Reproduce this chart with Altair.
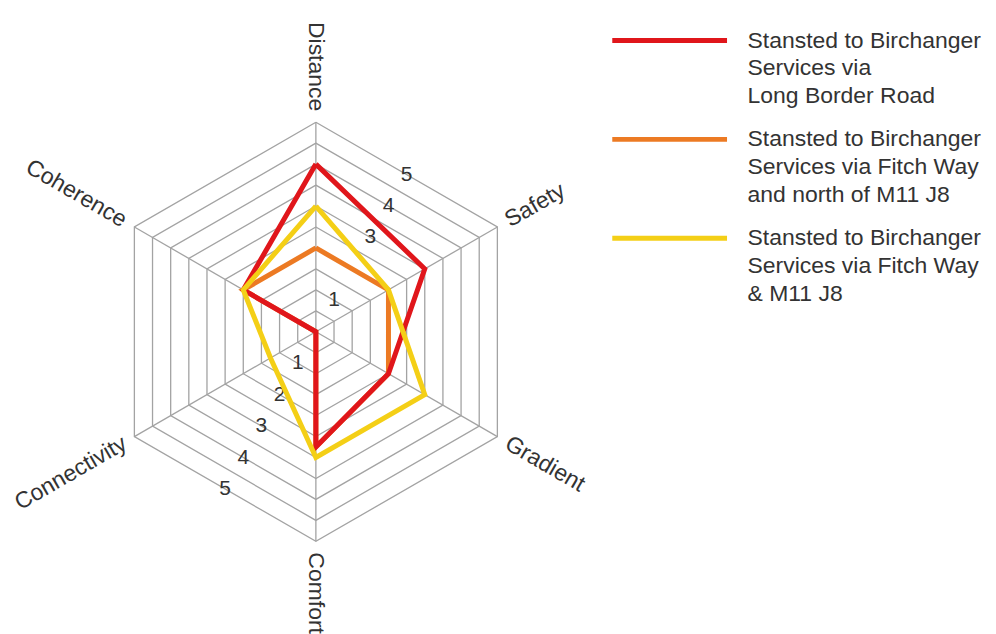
import math
import altair as alt
import pandas as pd

# ---------------- data ----------------
axes = ["Distance", "Safety", "Gradient", "Comfort", "Connectivity", "Coherence"]
series = [
    "Stansted to Birchanger|Services via|Long Border Road",
    "Stansted to Birchanger|Services via Fitch Way|and north of M11 J8",
    "Stansted to Birchanger|Services via Fitch Way|& M11 J8",
]
colors = ["#e0161b", "#ec7a23", "#f4cf16"]
long_border_road = [4, 3, 2, 2.75, 0, 2]
fitch_way_north = [2, 2, 2, 2.75, 0, 2]
fitch_way_j8 = [3, 2, 3, 3, 1.25, 2]
ring_levels = [0.5, 1, 1.5, 2, 2.5, 3, 3.5, 4, 4.5, 5]
max_level = 5
ticks_upper = [1, 3, 4, 5]
ticks_lower = [1, 2, 3, 4, 5]
draw_order = [1, 0, 2]   # orange below red, yellow on top

# ---------------- layout ----------------
W, H = 982, 626
cx, cy = 308.5, 323.8      # radar centre in plot pixels
unit = 42.0                # pixels per value unit
xdom = [-cx / unit, (W - cx) / unit]
ydom = [-(H - cy) / unit, cy / unit]
label_gap = 11 / unit
FONT = "Liberation Sans"
TXT = "#333333"
GRID = "#a3a3a3"

# ---------------- tables ----------------
rows = []
for name, vals in zip(series, [long_border_road, fitch_way_north, fitch_way_j8]):
    for i in range(len(axes) + 1):
        rows.append({"series": name, "axis_i": i % len(axes), "value": vals[i % len(axes)], "order": i})
series_df = pd.DataFrame(rows)

grid_df = pd.DataFrame([{"level": lv, "axis_i": i % len(axes), "order": i}
                        for lv in ring_levels for i in range(len(axes) + 1)])
spoke_df = pd.DataFrame({"axis_i": list(range(len(axes))), "value": [max_level] * len(axes)})
tick_df = pd.DataFrame(
    [{"tick": t, "dir": 1} for t in ticks_upper] + [{"tick": t, "dir": -1} for t in ticks_lower]
)
label_df = pd.DataFrame({"axis": axes, "axis_i": list(range(len(axes)))})

xs = alt.Scale(domain=xdom, nice=False, zero=False)
ys = alt.Scale(domain=ydom, nice=False, zero=False)
ANG = "PI/2 - datum.axis_i*PI/3"

def X(f):
    return alt.X(f, type="quantitative", scale=xs, axis=None)

def Y(f):
    return alt.Y(f, type="quantitative", scale=ys, axis=None)

grid = alt.Chart(grid_df).transform_calculate(
    x=f"datum.level*cos({ANG})", y=f"datum.level*sin({ANG})"
).mark_line(color=GRID, strokeWidth=1.3).encode(
    x=X("x"), y=Y("y"), detail="level:N", order="order:Q"
)

spokes = alt.Chart(spoke_df).transform_calculate(
    x0="0", y0="0", x=f"datum.value*cos({ANG})", y=f"datum.value*sin({ANG})"
).mark_rule(color=GRID, strokeWidth=1.3).encode(
    x=X("x0"), y=Y("y0"), x2="x:Q", y2="y:Q"
)

ticks = alt.Chart(tick_df).transform_calculate(
    x="datum.dir*datum.tick*cos(PI/6)*cos(PI/3)",
    y="datum.dir*datum.tick*cos(PI/6)*sin(PI/3)",
).mark_text(font=FONT, fontSize=21, color=TXT, align="center", baseline="middle").encode(
    x=X("x"), y=Y("y"), text="tick:Q"
)

legend = alt.Legend(
    title=None, orient="none", legendX=641, legendY=10,
    symbolType="M-3,0H3", symbolSize=1469, symbolStrokeWidth=5,
    labelFont=FONT, labelFontSize=23, labelColor=TXT, labelLimit=400,
    labelOffset=56, labelBaseline="middle", rowPadding=9, padding=0,
    labelExpr="split(datum.label, '|')",
)
color = alt.Color("series:N", scale=alt.Scale(domain=series, range=colors), legend=legend)

lines = []
for k in draw_order:
    name = series[k]
    lines.append(
        alt.Chart(series_df).transform_filter(alt.datum.series == name).transform_calculate(
            x=f"datum.value*cos({ANG})", y=f"datum.value*sin({ANG})"
        ).mark_line(strokeWidth=5, strokeJoin="miter").encode(
            x=X("x"), y=Y("y"), order="order:Q", color=color
        )
    )

lab_base = alt.Chart(label_df).transform_calculate(
    x=f"({max_level}+{label_gap})*cos({ANG})", y=f"({max_level}+{label_gap})*sin({ANG})"
)
labels_left = lab_base.transform_filter("datum.axis_i>=1 && datum.axis_i<=3").transform_calculate(
    rot="(60*datum.axis_i + 270) % 360"
).mark_text(font=FONT, fontSize=23, color=TXT, align="left", baseline="middle").encode(
    x=X("x"), y=Y("y"), text="axis:N", angle=alt.Angle("rot:Q", scale=None)
)
labels_right = lab_base.transform_filter("datum.axis_i==0 || datum.axis_i>=4").transform_calculate(
    rot="(90 + 60*datum.axis_i) % 360"
).mark_text(font=FONT, fontSize=23, color=TXT, align="right", baseline="middle").encode(
    x=X("x"), y=Y("y"), text="axis:N", angle=alt.Angle("rot:Q", scale=None)
)

chart = alt.layer(grid, spokes, ticks, *lines, labels_left, labels_right).properties(
    width=W, height=H, padding=0, autosize=alt.AutoSizeParams(type="none"), background="white"
).configure(
    style={"guide-label": {"lineHeight": 28}},
    view=alt.ViewConfig(stroke=None),
)

chart.save("out.html", embed_options={"renderer": "svg", "actions": False})
